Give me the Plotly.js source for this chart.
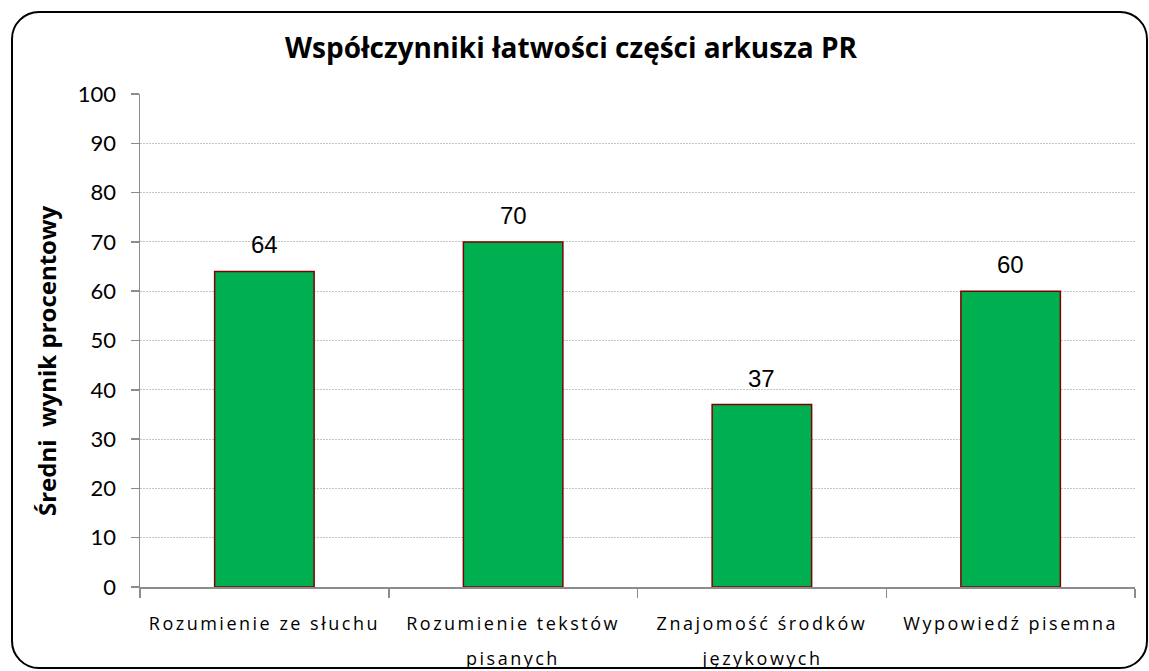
<!DOCTYPE html>
<html>
<head>
<meta charset="utf-8">
<script src="https://cdn.plot.ly/plotly-3.0.1.min.js"></script>
<style>
  html, body { margin: 0; padding: 0; background: #fff; }
  #wrap { position: relative; width: 1149px; height: 671px; overflow: hidden; }
  #chart { width: 1149px; height: 671px; }
  #frame { position: absolute; left: 11px; top: 11px; width: 1137px; height: 658px;
           box-sizing: border-box; border: 2.5px solid #000; border-radius: 28px; pointer-events: none; }
  .xtick text { letter-spacing: 2.5px; }
  .annotation[data-index="0"] text, .annotation[data-index="1"] text,
  .annotation[data-index="2"] text, .annotation[data-index="3"] text { letter-spacing: 2.5px; }
</style>
</head>
<body>
<div id="wrap">
  <div id="chart"></div>
  <div id="frame"></div>
</div>
<script>
// ---- data ----
const categories = [
  "Rozumienie ze słuchu",
  "Rozumienie tekstów",
  "Znajomość środków",
  "Wypowiedź pisemna"
];
const tickLabels = [
  "Rozumienie ze słuchu",
  "Rozumienie tekstów<br>pisanych",
  "Znajomość środków<br>językowych",
  "Wypowiedź pisemna"
];
const values = [64, 70, 37, 60];
const yTicks = [0, 10, 20, 30, 40, 50, 60, 70, 80, 90, 100];
const chartTitle = "Współczynniki łatwości części arkusza PR";
const yTitle = "Średni  wynik procentowy";

// ---- chart ----
const labelLines = tickLabels.map(s => s.split("<br>"));

const trace = {
  type: "bar",
  x: categories,
  y: values,
  marker: { color: "#00b050", line: { color: "#7f0000", width: 1.5 } },
  hoverinfo: "x+y"
};

const tickFont = { family: "Open Sans, sans-serif", size: 18, color: "#000" };

// second lines of the category labels (wider line spacing than Plotly's default)
const secondLines = categories.map((c, i) => ({
  x: c, xref: "x", y: 0, yref: "paper",
  text: labelLines[i][1] || "", showarrow: false,
  xanchor: "center", yanchor: "middle", yshift: -71,
  font: tickFont
}));

const valueLabels = categories.map((c, i) => ({
  x: c, y: values[i], xref: "x", yref: "y",
  text: String(values[i]), showarrow: false,
  yanchor: "bottom", yshift: 11,
  font: { family: "Liberation Sans Narrow, Arial Narrow, sans-serif", size: 24, color: "#000" }
}));

const layout = {
  width: 1149, height: 671,
  margin: { l: 140, r: 14, t: 94, b: 84 },
  paper_bgcolor: "#fff", plot_bgcolor: "#fff",
  showlegend: false,
  bargap: 0.6,
  title: {
    text: "<b>" + chartTitle + "</b>",
    font: { family: "Open Sans, sans-serif", size: 28, color: "#000" },
    x: 571 / 1149, xanchor: "center", xref: "container",
    y: 1 - 48 / 671, yanchor: "middle", yref: "container"
  },
  xaxis: {
    type: "category",
    tickvals: categories, ticktext: labelLines.map(l => l[0]),
    range: [-0.5, 3.5],
    showline: true, linecolor: "#8c8c8c", linewidth: 1.5,
    ticks: "outside", tickson: "boundaries", ticklen: 9, tickcolor: "#8c8c8c", tickwidth: 1.5,
    showgrid: false, zeroline: false,
    ticklabelstandoff: 20,
    tickfont: tickFont
  },
  yaxis: {
    range: [0, 100], tickvals: yTicks,
    showline: true, linecolor: "#8c8c8c", linewidth: 1.5,
    ticks: "outside", ticklen: 8, tickcolor: "#8c8c8c", tickwidth: 1.5,
    showgrid: true, gridcolor: "#c4c4c4", griddash: "2px,1px", gridwidth: 1,
    zeroline: false,
    ticklabelstandoff: 10,
    tickfont: { family: "Lato, sans-serif", size: 22, color: "#000" }
  },
  annotations: secondLines.concat(valueLabels).concat([{
    text: "<b>" + yTitle + "</b>", textangle: -90, showarrow: false,
    xref: "paper", yref: "paper",
    x: (46 - 140) / 995, y: (587 - 361) / 493,
    xanchor: "center", yanchor: "middle",
    font: { family: "Open Sans, sans-serif", size: 24, color: "#000" }
  }])
};

Plotly.newPlot("chart", [trace], layout, { displayModeBar: false, staticPlot: true });
</script>
</body>
</html>
